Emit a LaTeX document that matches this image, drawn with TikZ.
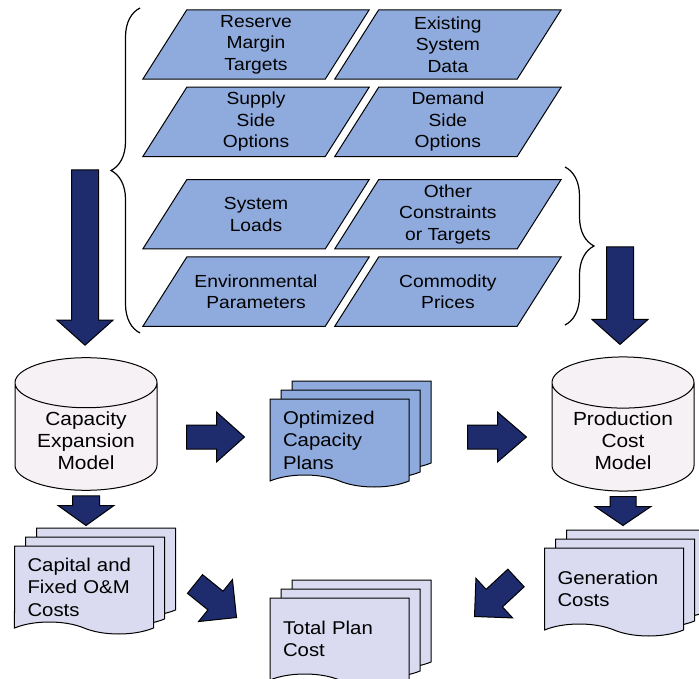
\documentclass[tikz,border=0pt]{standalone}
\usepackage{fontspec}
\setmainfont{Liberation Sans}[FakeStretch=1.1]
\usetikzlibrary{calc,positioning,shapes.geometric,shapes.symbols,shadows,decorations.pathreplacing,backgrounds}

\definecolor{paraBlue}{RGB}{143,170,220}
\definecolor{arrowNavy}{RGB}{30,44,110}
\definecolor{docLav}{RGB}{218,219,240}
\definecolor{cylFill}{RGB}{246,241,244}

\tikzset{
  input/.style={rectangle, minimum width=182pt, minimum height=69pt, inner sep=0pt,
    align=center, font=\fontsize{17.5}{21.5}\selectfont},
  para/.style={draw, fill=paraBlue, line width=1pt, line join=miter},
  model/.style={cylinder, shape border rotate=90, aspect=0.48, draw, fill=cylFill,
    line width=1pt, minimum width=142pt, minimum height=86pt, align=center,
    font=\fontsize{19}{22}\selectfont, anchor=shape center,
    execute at begin node={\rule{0pt}{22pt}}},
  docs/.style={tape, tape bend top=none, tape bend bottom=out and in,
    tape bend height=12pt, draw, fill=#1, line width=1pt, minimum width=139pt,
    minimum height=88pt, text width=113pt, inner xsep=13pt, align=left,
    font=\fontsize{18.5}{22.5}\selectfont,
    execute at begin node={\rule{0pt}{19.5pt}},
    double copy shadow={shadow xshift=11pt, shadow yshift=9pt, draw=black, fill=#1, line width=1pt}},
  brace/.style={decorate, decoration={brace, amplitude=29pt, aspect=0.5}, line width=1.2pt},
  fatdims/.code args={#1/#2/#3}{\def\fatw{#1}\def\fath{#2}\def\fatl{#3}},
  fat/.style={fatdims=#1, draw=black, fill=arrowNavy, line width=1pt, line join=miter,
    to path={($(\tikztotarget)!\fatl!(\tikztostart)$) coordinate (fatb)
      ($(\tikztostart)!\fatw!90:(\tikztotarget)$)
      -- ($(fatb)!\fatw!-90:(\tikztostart)$)
      -- ($(fatb)!\fath!-90:(\tikztostart)$)
      -- (\tikztotarget)
      -- ($(fatb)!\fath!90:(\tikztostart)$)
      -- ($(fatb)!\fatw!90:(\tikztostart)$)
      -- ($(\tikztostart)!\fatw!-90:(\tikztotarget)$)
      -- cycle}},
}

\begin{document}
\begin{tikzpicture}[x=1pt,y=-1pt]
\useasboundingbox (0,0) rectangle (699,679);

% inputs
\node[input] (rmt) at (256,44.5) {Reserve\\Margin\\Targets};
\node[input, right=9.5pt of rmt] (esd) {Existing\\System\\Data};
\node[input, below=8pt of rmt] (sso) {Supply\\Side\\Options};
\node[input, right=9.5pt of sso] (dso) {Demand\\Side\\Options};
\node[input, below=23pt of sso] (sld) {System\\Loads};
\node[input, right=9.5pt of sld] (oct) {Other\\Constraints\\or Targets};
\node[input, below=8pt of sld] (env) {Environmental\\Parameters};
\node[input, right=9.5pt of env] (cmp) {Commodity\\Prices};
\begin{scope}[on background layer]
  \foreach \n in {rmt,esd,sso,dso,sld,oct,env,cmp}
    \draw[para] ([xshift=-22pt]\n.south west) -- ([xshift=-22pt]\n.south east)
      -- ([xshift=22pt]\n.north east) -- ([xshift=22pt]\n.north west) -- cycle;
\end{scope}

\draw[brace] (140,333) -- (140,8);
\draw[brace] (565,167) -- (565,325);

% models
\node[model] (cem) at (86,424) {Capacity\\Expansion\\Model};
\node[model] (pcm) at (623,424) {Production\\Cost\\Model};

% outputs
\node[docs=paraBlue] (ocp) at (339.5,437) {Optimized\\Capacity\\Plans};
\node[docs=docLav] (cfc) at (84,584) {Capital and\\Fixed O\&M\\Costs};
\node[docs=docLav] (gen) at (614,586) {Generation\\Costs};
\node[docs=docLav] (tpc) at (339.5,636) {Total Plan\\Cost};

\coordinate (lin) at (85,170);
\coordinate (rin) at (620,247);
\draw[fat=13.5pt/28pt/25pt] (lin) to ([yshift=12pt]cem.north -| lin);
\draw[fat=13.5pt/28pt/25pt] (rin) to ([yshift=12pt]pcm.north -| rin);
\draw[fat=12pt/25pt/28pt] ([xshift=29pt]cem.east |- ocp.west) to ([xshift=-25pt]ocp.west);
\draw[fat=12pt/25pt/29pt] ([xshift=58pt]ocp.east) to ([xshift=-25pt]pcm.west |- ocp.east);
\draw[fat=13.5pt/28pt/20pt] ([yshift=-5pt]cem.south) to ([yshift=20pt]cfc.north -| cem.south);
\draw[fat=13pt/28pt/19pt] ([yshift=-5pt]pcm.south) to ([yshift=22pt]gen.north -| pcm.south);
\draw[fat=12pt/27pt/27pt] ([xshift=41pt]cfc.east) to ([xshift=-33pt,yshift=-20pt]tpc.north west);
\draw[fat=12pt/27pt/27pt] ([xshift=-28pt,yshift=8pt]gen.west) to ([xshift=65pt,yshift=-19pt]tpc.north east);
\end{tikzpicture}
\end{document}
